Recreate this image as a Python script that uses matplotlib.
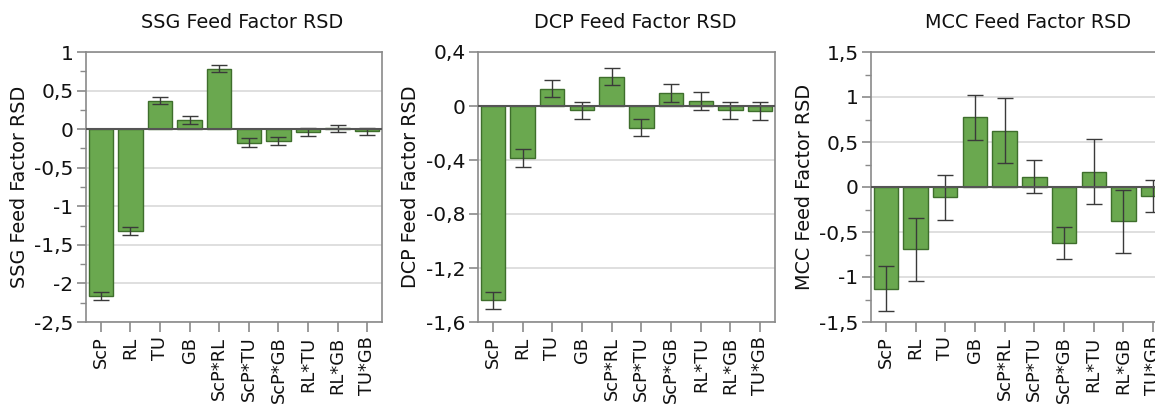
import matplotlib
matplotlib.use("Agg")
import matplotlib.pyplot as plt
from matplotlib.ticker import MultipleLocator, FuncFormatter

# Effect terms shown on each panel
terms = ["ScP", "RL", "TU", "GB", "ScP*RL", "ScP*TU", "ScP*GB", "RL*TU", "RL*GB", "TU*GB"]

# SSG feed factor RSD effects and error bar half-widths
ssg_values = [-2.16, -1.32, 0.37, 0.12, 0.785, -0.175, -0.15, -0.035, 0.01, -0.025]
ssg_errors = [0.05, 0.05, 0.05, 0.05, 0.05, 0.055, 0.05, 0.05, 0.045, 0.045]

# DCP feed factor RSD effects and error bar half-widths
dcp_values = [-1.44, -0.385, 0.128, -0.032, 0.218, -0.16, 0.097, 0.037, -0.033, -0.035]
dcp_errors = [0.065, 0.065, 0.065, 0.065, 0.065, 0.065, 0.065, 0.065, 0.065, 0.065]

# MCC feed factor RSD effects and error bar half-widths
mcc_values = [-1.13, -0.69, -0.115, 0.775, 0.625, 0.115, -0.62, 0.17, -0.38, -0.10]
mcc_errors = [0.25, 0.35, 0.25, 0.25, 0.36, 0.18, 0.18, 0.36, 0.35, 0.18]

panels = [
    dict(title="SSG Feed Factor RSD", values=ssg_values, errors=ssg_errors,
         ylim=(-2.5, 1.0), major=0.5, minor=0.25),
    dict(title="DCP Feed Factor RSD", values=dcp_values, errors=dcp_errors,
         ylim=(-1.6, 0.4), major=0.4, minor=None),
    dict(title="MCC Feed Factor RSD", values=mcc_values, errors=mcc_errors,
         ylim=(-1.5, 1.5), major=0.5, minor=0.25),
]

plt.rcParams["font.family"] = ["DejaVu Sans"]

W, H = 1155, 405
fig = plt.figure(figsize=(W / 100, H / 100), dpi=100)

# Axes boxes in pixels: left, top, width, height
boxes = [(86, 52, 296, 270), (478, 52, 297, 270), (871, 52, 297, 270)]
title_x = [242, 635, 1028]

bar_face = "#6aa84f"
bar_edge = "#3e6e2c"
frame_col = "#8a8a8a"
grid_col = "#dcdcdc"
text_col = "#111111"


def comma_fmt(v, pos):
    s = ("%.1f" % v).rstrip("0").rstrip(".")
    if s == "-0":
        s = "0"
    return s.replace(".", ",")


for (l, t, w, h), tx, p in zip(boxes, title_x, panels):
    ax = fig.add_axes([l / W, (H - t - h) / H, w / W, h / H])
    x = list(range(len(terms)))
    ax.bar(x, p["values"], width=0.82, color=bar_face, edgecolor=bar_edge,
           linewidth=1.0, zorder=3)
    ax.errorbar(x, p["values"], yerr=p["errors"], fmt="none", ecolor="#3a3a3a",
                elinewidth=1.0, capsize=5.5, capthick=1.0, zorder=4)
    ax.axhline(0, color="#555555", linewidth=1.5, zorder=5)

    ax.set_xlim(-0.5, len(terms) - 0.5)
    ax.set_ylim(*p["ylim"])
    ax.yaxis.set_major_locator(MultipleLocator(p["major"]))
    if p["minor"]:
        ax.yaxis.set_minor_locator(MultipleLocator(p["minor"]))
    ax.yaxis.set_major_formatter(FuncFormatter(comma_fmt))
    ax.grid(axis="y", which="major", color=grid_col, linewidth=1.3, zorder=0)
    ax.set_axisbelow(True)

    ax.set_xticks(x)
    ax.set_xticklabels(terms, rotation=90)
    ax.tick_params(axis="x", which="major", length=7.5, width=1.2,
                   color=frame_col, labelsize=12.8, pad=3, labelcolor=text_col)
    ax.tick_params(axis="y", which="major", length=6.5, width=1.2,
                   color=frame_col, labelsize=14.5, pad=2.5, labelcolor=text_col)
    ax.tick_params(axis="y", which="minor", length=4, width=1.0, color=frame_col)
    for s in ax.spines.values():
        s.set_color(frame_col)
        s.set_linewidth(1.2)

    ax.set_ylabel(p["title"], fontsize=13.8, color=text_col, labelpad=4)
    fig.text(tx / W, 1 - 22 / H, p["title"], ha="center", va="center",
             fontsize=13.8, color=text_col)

fig.savefig("out.png", dpi=100)
